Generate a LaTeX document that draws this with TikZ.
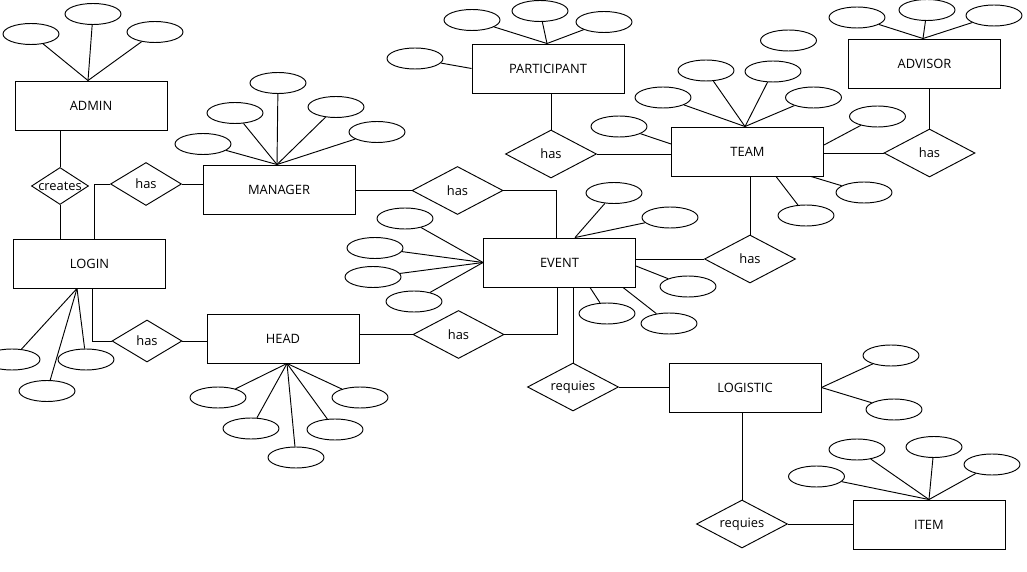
\documentclass[tikz,border=0pt]{standalone}
\usepackage{fontspec}
\setmainfont{Open Sans}
\usetikzlibrary{shapes.geometric}

\begin{document}
\begin{tikzpicture}[x=0.03cm, y=-0.03cm, line width=0.8pt, every node/.style={font=\fontsize{11}{13}\selectfont}, ent/.style={draw, minimum width=4.56cm, minimum height=1.47cm, inner sep=0pt}, rel/.style={draw, diamond, aspect=1.9, minimum width=2.73cm, minimum height=1.44cm, inner sep=0pt}, attr/.style={draw, ellipse, minimum width=1.68cm, minimum height=0.63cm, inner sep=0pt}]
\useasboundingbox (0,0) rectangle (1027,572);
\node[ent] (admin) at (91,105.5) {ADMIN};
\node[ent] (login) at (89.5,263.5) {LOGIN};
\node[ent] (manager) at (279,189.5) {MANAGER};
\node[ent] (head) at (283,338.5) {HEAD};
\node[ent] (participant) at (548,68.5) {PARTICIPANT};
\node[ent] (team) at (747.5,151.5) {TEAM};
\node[ent] (advisor) at (924.5,63.5) {ADVISOR};
\node[ent] (event) at (559.5,262.5) {EVENT};
\node[ent] (logistic) at (745,387.5) {LOGISTIC};
\node[ent] (item) at (929,524.5) {ITEM};
\node[rel, minimum width=1.71cm, minimum height=1.11cm] (creates) at (60,186) {\makebox[0pt]{creates}};
\node[rel, minimum width=2.13cm, minimum height=1.29cm] (hasmgr) at (146,184) {has};
\node[rel, minimum width=2.1cm, minimum height=1.26cm] (hashead) at (147,341) {has};
\node[rel] (hasmgrev) at (457.5,190.5) {has};
\node[rel] (hasheadev) at (458.5,334.5) {has};
\node[rel] (haspart) at (551,154) {has};
\node[rel] (hasadv) at (929.5,153) {has};
\node[rel] (hasteam) at (750,259) {has};
\node[rel] (req) at (573,387) {requies};
\node[rel] (reqitem) at (742,524) {requies};
\draw (creates.north) -- (creates.north |- admin.south); \draw (creates.south) -- (creates.south |- login.north);
\draw (hasmgr.west) -| ([xshift=0.14cm]login.north); \draw (hasmgr.east) -- (hasmgr.east -| manager.west);
\draw ([xshift=0.08cm]login.south) |- (hashead.west); \draw (hashead.east) -- (hashead.east -| head.west);
\draw (hasmgrev.west -| manager.east) -- (hasmgrev.west); \draw (hasmgrev.east) -| ([xshift=-0.08cm]event.north);
\draw (head.east |- hasheadev.west) -- (hasheadev.west); \draw (hasheadev.east) -| ([xshift=-0.05cm]event.south);
\draw (req.north) -- (req.north |- event.south); \draw (req.east) -- (req.east -| logistic.west);
\draw (reqitem.north) -- (reqitem.north |- logistic.south); \draw (reqitem.east) -- (reqitem.east -| item.west);
\draw (haspart.north) -- (haspart.north |- participant.south); \draw (haspart.east) -- (haspart.east -| team.west);
\draw (hasadv.west -| team.east) -- (hasadv.west); \draw (hasadv.north) -- (hasadv.north |- advisor.south);
\draw (hasteam.north) -- (hasteam.north |- team.south); \draw (hasteam.west) -- (hasteam.west -| event.east);
\coordinate (adminc) at ([xshift=-0.09cm]admin.north);
\coordinate (managerc) at ([xshift=-0.06cm]manager.north);
\coordinate (loginc) at ([xshift=-0.375cm]login.south);
\coordinate (headc) at ([xshift=0.12cm]head.south);
\coordinate (partc) at ([xshift=-0.03cm]participant.north);
\coordinate (teamc) at ([xshift=-0.075cm]team.north);
\coordinate (advisorc) at ([xshift=-0.045cm]advisor.north);
\coordinate (eventc) at ([xshift=0.465cm]event.north);
\node[attr] (adm1) at (31,34) {}; \node[attr] (adm2) at (93,14) {}; \node[attr] (adm3) at (155,32) {};
\draw (adm1) -- (adminc); \draw (adm2) -- (adminc); \draw (adm3) -- (adminc);
\node[attr] (mgr1) at (203,144) {}; \node[attr] (mgr2) at (235,113) {}; \node[attr] (mgr3) at (278,83) {}; \node[attr] (mgr4) at (336,107) {}; \node[attr] (mgr5) at (377,132) {};
\draw (mgr1) -- (managerc); \draw (mgr2) -- (managerc); \draw (mgr3) -- (managerc); \draw (mgr4) -- (managerc); \draw (mgr5) -- (managerc);
\node[attr] (log1) at (12,359.5) {}; \node[attr] (log2) at (47,391) {}; \node[attr] (log3) at (86,359.5) {};
\draw (log1) -- (loginc); \draw (log2) -- (loginc); \draw (log3) -- (loginc);
\node[attr] (hd1) at (218,397.5) {}; \node[attr] (hd2) at (251,428.5) {}; \node[attr] (hd3) at (296,457.5) {}; \node[attr] (hd4) at (335,429.5) {}; \node[attr] (hd5) at (360,397.5) {};
\draw (hd1) -- (headc); \draw (hd2) -- (headc); \draw (hd3) -- (headc); \draw (hd4) -- (headc); \draw (hd5) -- (headc);
\node[attr] (pt1) at (415,58.5) {}; \node[attr] (pt2) at (472,20) {}; \node[attr] (pt3) at (540,11) {}; \node[attr] (pt4) at (604,22) {};
\draw (pt1) -- (participant.west); \draw (pt2) -- (partc); \draw (pt3) -- (partc); \draw (pt4) -- (partc);
\node[attr] (adv1) at (857,17.5) {}; \node[attr] (adv2) at (927,10) {}; \node[attr] (adv3) at (994,15.5) {};
\draw (adv1) -- (advisorc); \draw (adv2) -- (advisorc); \draw (adv3) -- (advisorc);
\node[attr] (tm1) at (619,126.5) {}; \node[attr] (tm2) at (663,97.5) {}; \node[attr] (tm3) at (706,70.5) {}; \node[attr] (tm4) at (773,71.5) {}; \node[attr] (tm5) at (813.5,97.5) {};
\node[attr] (tm6) at (788.5,40.5) {}; \node[attr] (tm7) at (877.5,116.5) {}; \node[attr] (tm8) at (864,192.5) {}; \node[attr] (tm9) at (806,215.5) {};
\draw (tm1) -- ([yshift=0.225cm]team.west); \draw (tm2) -- (teamc); \draw (tm3) -- (teamc); \draw (tm4) -- (teamc); \draw (tm5) -- (teamc);
\draw (tm7) -- ([yshift=0.195cm]team.east); \draw (tm8) -- ([xshift=1.905cm]team.south); \draw (tm9) -- ([xshift=0.855cm]team.south);
\node[attr] (ev1) at (405,218.5) {}; \node[attr] (ev2) at (375,248) {}; \node[attr] (ev3) at (373,277) {}; \node[attr] (ev4) at (414,301.5) {};
\node[attr] (ev5) at (614,193) {}; \node[attr] (ev6) at (670,217.5) {}; \node[attr] (ev7) at (688,286.5) {}; \node[attr] (ev8) at (607,313.5) {}; \node[attr] (ev9) at (669,323.5) {};
\draw (ev1) -- (event.west); \draw (ev2) -- (event.west); \draw (ev3) -- (event.west); \draw (ev4) -- (event.west);
\draw (ev5) -- (eventc); \draw (ev6) -- (eventc); \draw (ev7) -- ([yshift=-0.105cm]event.east); \draw (ev8) -- ([xshift=0.915cm]event.south); \draw (ev9) -- ([xshift=1.905cm]event.south);
\node[attr] (lg1) at (891,355.5) {}; \node[attr] (lg2) at (894,409.5) {};
\draw (lg1) -- (logistic.east); \draw (lg2) -- (logistic.east);
\node[attr] (it1) at (816.5,476.5) {}; \node[attr] (it2) at (857,449.5) {}; \node[attr] (it3) at (934,447) {}; \node[attr] (it4) at (992,464.5) {};
\draw (it1) -- (item.north); \draw (it2) -- (item.north); \draw (it3) -- (item.north); \draw (it4) -- (item.north);
\end{tikzpicture}
\end{document}
